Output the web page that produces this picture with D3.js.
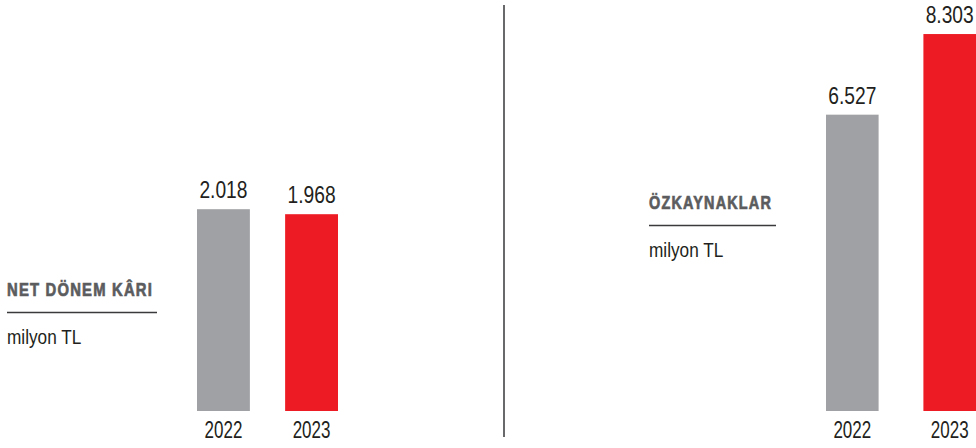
<!DOCTYPE html>
<html>
<head>
<meta charset="utf-8">
<script src="https://cdn.jsdelivr.net/npm/d3@7"></script>
<style>
	body { margin: 0; background: #fff; }
	svg { display: block; }
	text { font-family: "Liberation Sans", Arial, sans-serif; }
	.val, .tick text { fill: #231f20; }
	.ttl { font-weight: bold; fill: #5b5c5e; stroke: #5b5c5e; stroke-width: 0.7px; letter-spacing: 1.5px; }
	.unit { fill: #231f20; }
</style>
</head>
<body>
<svg id="chart" width="976" height="448"></svg>
<script>
// data
const years = ['2022', '2023'];
const netKar = [2018, 1968];
const ozkaynak = [6527, 8303];
const titles = ['NET DÖNEM KÂRI', 'ÖZKAYNAKLAR'];
const unitLabel = 'milyon TL';

const colors = ['#a0a1a4', '#ed1c24'];
const fmt = v => d3.format(',')(v).replace(/,/g, '.');

// no condensed font installed, so squeeze glyphs horizontally
const narrow = (x, y, k) => `translate(${x},${y}) scale(${k},1)`;

const svg = d3.select('#chart');

function drawPanel(values, opts) {
	const x = d3.scaleBand()
		.domain(years)
		.range(opts.xRange)
		.paddingInner(opts.pad)
		.paddingOuter(0);

	const y = d3.scaleLinear()
		.domain(opts.yDomain)
		.range([411, opts.yTop]);

	const data = years.map((yr, i) => ({ year: yr, value: values[i] }));
	const g = svg.append('g');

	g.selectAll('rect')
		.data(data)
		.enter()
		.append('rect')
		.attr('x', d => x(d.year))
		.attr('y', d => y(d.value))
		.attr('width', x.bandwidth())
		.attr('height', d => y(0) - y(d.value))
		.style('fill', (d, i) => colors[i]);

	g.selectAll('text.val')
		.data(data)
		.enter()
		.append('text')
		.attr('class', 'val')
		.attr('transform', d => narrow(x(d.year) + x.bandwidth() / 2, y(d.value) - 11, 0.8))
		.attr('text-anchor', 'middle')
		.style('font-size', '24px')
		.text(d => fmt(d.value));

	const xAxis = d3.axisBottom(x).tickSize(0).tickPadding(0);
	const ax = g.append('g')
		.attr('transform', 'translate(0, 438)')
		.call(xAxis);
	ax.select('.domain').remove();
	ax.selectAll('.tick text')
		.attr('y', 0)
		.attr('dy', 0)
		.attr('transform', 'scale(0.74,1)')
		.style('font-size', '23px');

	// title block
	g.append('text')
		.attr('class', 'ttl')
		.attr('x', opts.tx)
		.attr('y', opts.ty)
		.attr('textLength', opts.lw - 4)
		.attr('lengthAdjust', 'spacingAndGlyphs')
		.style('font-size', '18.5px')
		.text(opts.title);

	g.append('line')
		.attr('x1', opts.tx)
		.attr('x2', opts.tx + opts.lw)
		.attr('y1', opts.ty + 16.5)
		.attr('y2', opts.ty + 16.5)
		.style('stroke', '#3a3a3c')
		.style('stroke-width', 1.5);

	g.append('text')
		.attr('class', 'unit')
		.attr('transform', narrow(opts.tx, opts.ty + 47.5, 0.82))
		.style('font-size', '21px')
		.text(unitLabel);
}

drawPanel(netKar, {
	xRange: [197, 338], pad: 0.4,
	yDomain: [0, 4000], yTop: 11,
	title: titles[0], tx: 7, ty: 296, lw: 150
});

drawPanel(ozkaynak, {
	xRange: [826, 976], pad: 0.46,
	yDomain: [0, 9000], yTop: 2.4,
	title: titles[1], tx: 649, ty: 209, lw: 127
});

// divider
svg.append('line')
	.attr('x1', 504).attr('x2', 504)
	.attr('y1', 5).attr('y2', 437)
	.style('stroke', '#58595b')
	.style('stroke-width', 1.8);
</script>
</body>
</html>
